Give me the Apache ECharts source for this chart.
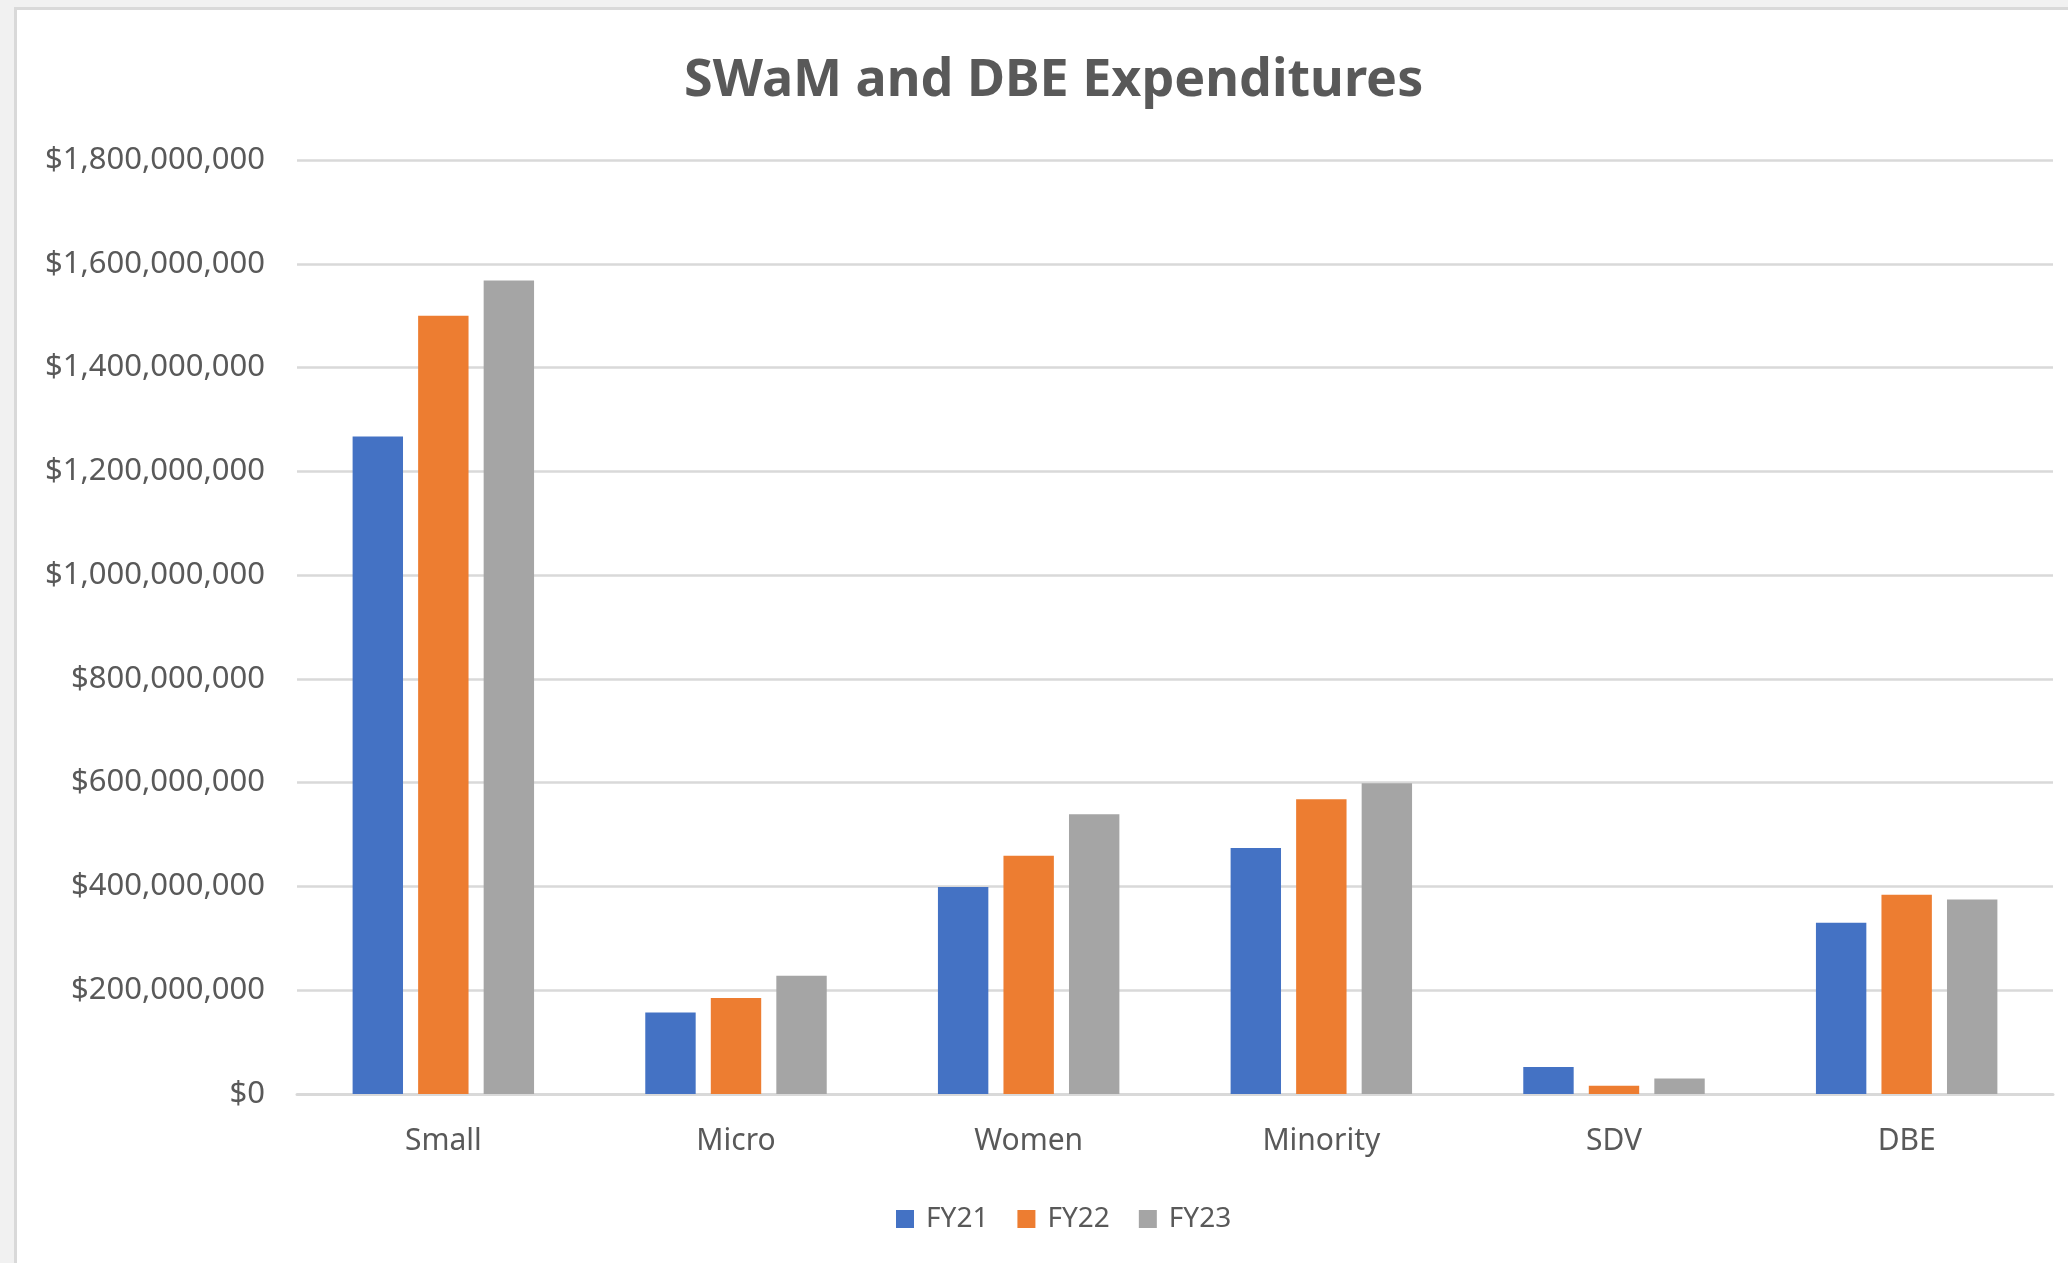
<!DOCTYPE html>
<html>
<head>
<meta charset="utf-8">
<script src="https://cdn.jsdelivr.net/npm/echarts@6/dist/echarts.min.js"></script>
<style>
  html, body { margin: 0; padding: 0; background: #f1f1f1; overflow: hidden; }
  #frame { position: absolute; left: 14px; top: 7px; width: 2100px; height: 1300px; background: #ffffff; border: 3px solid #d9d9d9; box-sizing: border-box; }
  #chart { position: absolute; left: 0; top: 0; width: 2068px; height: 1263px; }
</style>
</head>
<body>
<div id="frame"></div>
<div id="chart"></div>
<script>
const categories = ['Small', 'Micro', 'Women', 'Minority', 'SDV', 'DBE'];
const seriesNames = ['FY21', 'FY22', 'FY23'];
const fy21 = [1267000000, 157000000, 399000000, 474000000, 52000000, 330000000];
const fy22 = [1500000000, 185000000, 459000000, 568000000, 16000000, 384000000];
const fy23 = [1568000000, 228000000, 539000000, 599000000, 30000000, 375000000];
const yTicks = [0, 200000000, 400000000, 600000000, 800000000, 1000000000, 1200000000, 1400000000, 1600000000, 1800000000];
const colors = ['#4472C4', '#ED7D31', '#A5A5A5'];

const fontFamily = '"Noto Sans", "Open Sans", sans-serif';
const textColor = '#595959';

function fmtMoney(v) {
  return '$' + Math.round(v).toString().replace(/\B(?=(\d{3})+(?!\d))/g, ',');
}

const chart = echarts.init(document.getElementById('chart'), null, { renderer: 'canvas' });
const dataSets = [fy21, fy22, fy23];
chart.setOption({
  backgroundColor: 'transparent',
  animation: false,
  color: colors,
  title: {
    text: 'SWaM and DBE Expenditures',
    left: 679,
    top: 50,
    textStyle: { fontFamily: fontFamily, fontSize: 52, fontWeight: 'bold', color: textColor }
  },
  legend: {
    data: seriesNames,
    left: 891,
    top: 1200,
    itemWidth: 18,
    itemHeight: 18,
    itemGap: 29,
    icon: 'rect',
    textStyle: { fontFamily: fontFamily, fontSize: 28, color: textColor, padding: [0, 0, 0, 7] }
  },
  grid: { left: 297, right: 15, top: 160, bottom: 169, containLabel: false },
  xAxis: {
    type: 'category',
    data: categories,
    axisTick: { show: false },
    axisLine: { show: true, lineStyle: { color: '#d9d9d9', width: 3 } },
    axisLabel: { fontFamily: fontFamily, fontSize: 30, color: textColor, margin: 32 }
  },
  yAxis: {
    type: 'value',
    min: yTicks[0],
    max: yTicks[yTicks.length - 1],
    interval: yTicks[1] - yTicks[0],
    axisLine: { show: false },
    axisTick: { show: false },
    splitLine: { lineStyle: { color: '#d9d9d9', width: 2.5 } },
    axisLabel: { fontFamily: fontFamily, fontSize: 31, color: textColor, margin: 32, formatter: fmtMoney }
  },
  series: seriesNames.map((name, i) => ({
    name: name,
    type: 'bar',
    data: dataSets[i],
    barGap: '30%',
    barCategoryGap: '38%',
    itemStyle: { color: colors[i] }
  }))
});
</script>
</body>
</html>
